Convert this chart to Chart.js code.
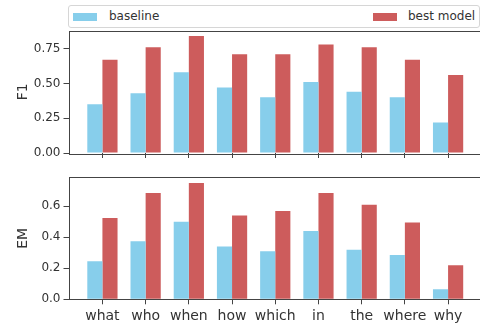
<!DOCTYPE html>
<html lang="en">
<head>
    <meta charset="UTF-8">
    <title>F1 / EM per question type</title>
    <script src="https://cdn.jsdelivr.net/npm/chart.js"></script>
    <style>
        body {
            margin: 0;
            width: 480px;
            height: 327px;
            overflow: hidden;
            background: #ffffff;
            font-family: 'DejaVu Sans', sans-serif;
            position: relative;
        }
        .box {
            position: absolute;
            left: 0;
            width: 482px;
        }
        #top { top: 0; height: 165px; }
        #bottom { top: 165px; height: 162px; }
        .legend {
            position: absolute;
            left: 68px;
            top: 5px;
            width: 410px;
            height: 21px;
            border: 1px solid #d6d6d6;
            border-radius: 3px;
            font-size: 12px;
            color: #333;
            background: #fff;
            z-index: 2;
        }
        .legend span { position: absolute; top: 3px; }
        .legend i { position: absolute; top: 7px; width: 24px; height: 8px; }
    </style>
</head>
<body>
    <div class="box" id="top"><canvas id="f1Chart"></canvas></div>
    <div class="box" id="bottom"><canvas id="emChart"></canvas></div>
    <div class="legend">
        <i style="left:4px; background:#87CEEB"></i><span style="left:40px">baseline</span>
        <i style="left:304px; background:#CD5C5C"></i><span style="left:339px">best model</span>
    </div>

    <script>
        // valores
        const categories = ['what', 'who', 'when', 'how', 'which', 'in', 'the', 'where', 'why'];
        const f1Baseline = [0.35, 0.43, 0.58, 0.47, 0.40, 0.51, 0.44, 0.40, 0.22];
        const f1Best     = [0.67, 0.76, 0.84, 0.71, 0.71, 0.78, 0.76, 0.67, 0.56];
        const emBaseline = [0.245, 0.375, 0.50, 0.34, 0.31, 0.44, 0.32, 0.285, 0.065];
        const emBest     = [0.525, 0.685, 0.75, 0.54, 0.57, 0.685, 0.61, 0.495, 0.22];
        const f1Ticks = [0, 0.25, 0.5, 0.75];
        const f1TickLabels = ['0.00', '0.25', '0.50', '0.75'];
        const emTicks = [0, 0.2, 0.4, 0.6];
        const emTickLabels = ['0.0', '0.2', '0.4', '0.6'];

        const axisColor = '#444';
        const textColor = '#333';

        // desenha a moldura completa (estilo matplotlib)
        const frame = {
            id: 'frame',
            afterDraw(chart) {
                const a = chart.chartArea, c = chart.ctx;
                c.save();
                c.strokeStyle = axisColor;
                c.lineWidth = 1;
                c.strokeRect(Math.round(a.left) + 0.5, Math.round(a.top) + 0.5,
                             Math.round(a.right - a.left), Math.round(a.bottom - a.top));
                c.restore();
            }
        };

        function points(values) {
            return values.map((v, i) => ({ x: i, y: v }));
        }

        function makeChart(id, title, base, best, yMax, yTicks, yLabels, showLabels, pad, xHeight) {
            return new Chart(document.getElementById(id), {
                type: 'bar',
                data: {
                    datasets: [
                        { label: 'baseline', data: points(base), backgroundColor: '#87CEEB' },
                        { label: 'best model', data: points(best), backgroundColor: '#CD5C5C' }
                    ]
                },
                options: {
                    responsive: true,
                    maintainAspectRatio: false,
                    animation: false,
                    categoryPercentage: 0.7,
                    barPercentage: 1.0,
                    layout: { padding: { top: pad, right: 0, left: 0, bottom: 0 } },
                    plugins: { legend: { display: false }, tooltip: { enabled: false } },
                    scales: {
                        x: {
                            type: 'linear',
                            offset: false,
                            min: -0.785,
                            max: 8.785,
                            afterBuildTicks: s => { s.ticks = categories.map((_, i) => ({ value: i })); },
                            afterFit: s => { s.height = xHeight; },
                            grid: { offset: false, drawOnChartArea: false, drawTicks: true, tickLength: 5, color: axisColor },
                            border: { display: false },
                            ticks: {
                                display: showLabels,
                                autoSkip: false,
                                maxRotation: 0,
                                padding: 4,
                                color: textColor,
                                font: { family: 'DejaVu Sans', size: 14 },
                                callback: (v, i) => categories[i]
                            }
                        },
                        y: {
                            min: 0,
                            max: yMax,
                            afterBuildTicks: s => { s.ticks = yTicks.map(v => ({ value: v })); },
                            afterFit: s => { s.width = 68.5; },
                            grid: { drawOnChartArea: false, drawTicks: true, tickLength: 5, color: axisColor },
                            border: { display: false },
                            title: {
                                display: true,
                                text: title,
                                color: textColor,
                                font: { family: 'DejaVu Sans', size: 14 },
                                padding: { top: 15, bottom: 0 }
                            },
                            ticks: {
                                padding: 3,
                                color: textColor,
                                font: { family: 'DejaVu Sans', size: 12 },
                                callback: (v, i) => yLabels[i]
                            }
                        }
                    }
                },
                plugins: [frame]
            });
        }

        makeChart('f1Chart', 'F1', f1Baseline, f1Best, 0.88, f1Ticks, f1TickLabels, false, 30.5, 12);
        makeChart('emChart', 'EM', emBaseline, emBest, 0.787, emTicks, emTickLabels, true, 12.3, 27.7);
    </script>
</body>
</html>
